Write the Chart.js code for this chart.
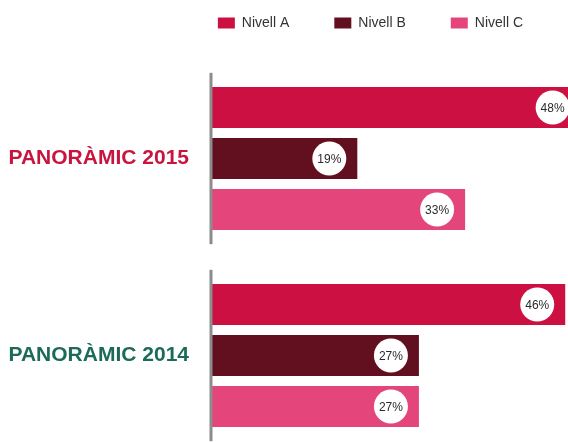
<!DOCTYPE html>
<html>
<head>
<meta charset="utf-8">
<script src="https://cdn.jsdelivr.net/npm/chart.js@4.4.1/dist/chart.umd.min.js"></script>
<style>
  html, body { margin: 0; padding: 0; background: #fff; overflow: hidden; }
  #wrap { width: 568px; height: 454px; position: relative; }
</style>
</head>
<body>
<div id="wrap"><canvas id="nivellsChart"></canvas></div>
<script>
// data
const categories = ['PANORÀMIC 2015', 'PANORÀMIC 2014'];
const seriesNames = ['Nivell A', 'Nivell B', 'Nivell C'];
const nivellA = [48, 46];
const nivellB = [19, 27];
const nivellC = [33, 27];

const seriesColors = ['#cc1041', '#620f1f', '#e4467b'];
const categoryColors = ['#c8153f', '#1c6b59'];
const FONT = '"Liberation Sans", Arial, Helvetica, sans-serif';

// push chart area lower than the legend would
const legendGap = {
  id: 'legendGap',
  beforeInit(chart) {
    const fit = chart.legend.fit;
    chart.legend.fit = function () {
      fit.call(this);
      this.height += 20;
    };
  }
};

// grey axis line, split per group
const groupAxis = {
  id: 'groupAxis',
  afterDatasetsDraw(chart) {
    const { ctx, chartArea, scales: { y } } = chart;
    const half = (y.getPixelForValue(1) - y.getPixelForValue(0)) / 2;
    ctx.save();
    ctx.strokeStyle = '#8c8c8c';
    ctx.lineWidth = 3;
    categories.forEach((c, i) => {
      const cy = y.getPixelForValue(i);
      ctx.beginPath();
      ctx.moveTo(chartArea.left, cy - half * 0.87);
      ctx.lineTo(chartArea.left, cy + half * 0.87);
      ctx.stroke();
    });
    ctx.restore();
  }
};

// white circles with the % value at bar ends
const circleLabels = {
  id: 'circleLabels',
  afterDatasetsDraw(chart) {
    const { ctx } = chart;
    ctx.save();
    chart.data.datasets.forEach((ds, di) => {
      chart.getDatasetMeta(di).data.forEach((bar, i) => {
        const cx = bar.x - 28;
        const cy = bar.y;
        ctx.beginPath();
        ctx.arc(cx, cy, 17, 0, Math.PI * 2);
        ctx.fillStyle = '#ffffff';
        ctx.fill();
        ctx.fillStyle = '#2a2a2a';
        ctx.font = '12px ' + FONT;
        ctx.textAlign = 'center';
        ctx.textBaseline = 'middle';
        ctx.fillText(ds.data[i] + '%', cx, cy + 1);
      });
    });
    ctx.restore();
  }
};

const ctx = document.getElementById('nivellsChart').getContext('2d');
new Chart(ctx, {
  type: 'bar',
  data: {
    labels: categories,
    datasets: [
      { label: seriesNames[0], data: nivellA, backgroundColor: seriesColors[0] },
      { label: seriesNames[1], data: nivellB, backgroundColor: seriesColors[1] },
      { label: seriesNames[2], data: nivellC, backgroundColor: seriesColors[2] }
    ]
  },
  options: {
    indexAxis: 'y',
    responsive: true,
    maintainAspectRatio: false,
    animation: false,
    devicePixelRatio: 1,
    categoryPercentage: 0.777,
    barPercentage: 0.8,
    layout: { padding: { top: -29, bottom: 0, left: 0, right: 0 } },
    plugins: {
      legend: {
        position: 'top',
        align: 'end',
        labels: {
          boxWidth: 17,
          boxHeight: 11,
          padding: 45,
          color: '#333333',
          font: { family: FONT, size: 14 }
        }
      },
      tooltip: { enabled: false }
    },
    scales: {
      x: {
        display: false,
        min: 0,
        max: 46.36
      },
      y: {
        grid: { display: false, drawTicks: false },
        border: { display: false },
        afterFit: (s) => {
          s.width = 211;
          s.paddingTop = 0;
          s.paddingBottom = 0;
        },
        ticks: {
          padding: 22,
          color: (c) => categoryColors[c.index],
          font: { family: FONT, size: 21, weight: 'bold' }
        }
      }
    }
  },
  plugins: [legendGap, groupAxis, circleLabels]
});
</script>
</body>
</html>
